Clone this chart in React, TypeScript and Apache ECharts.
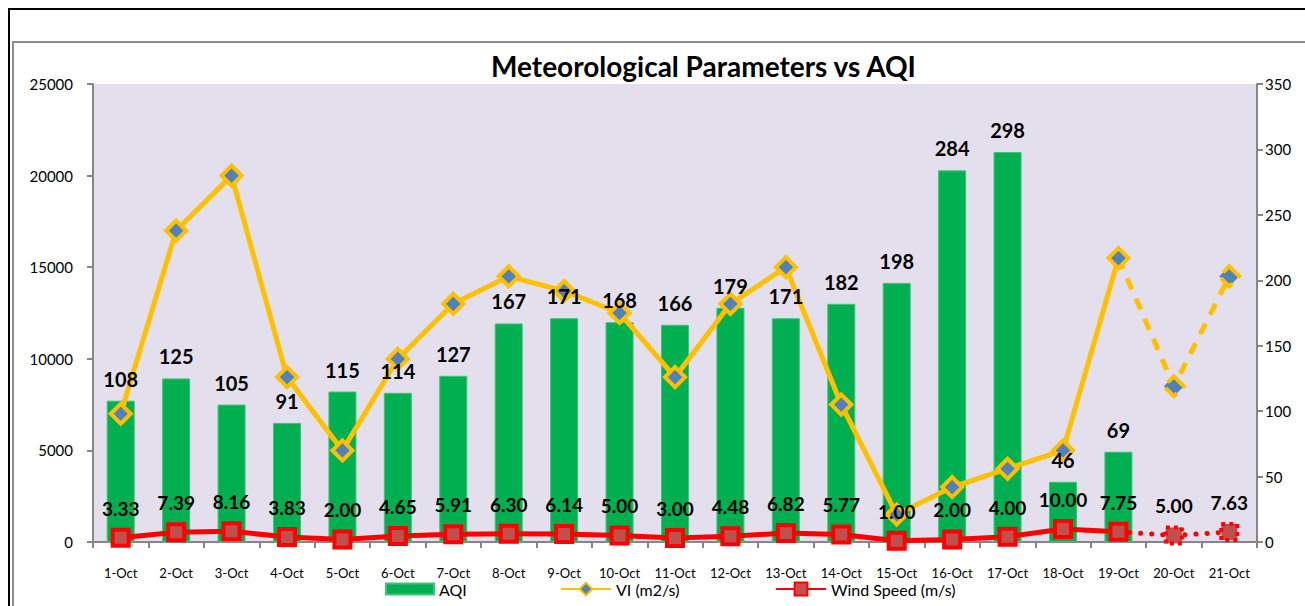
import React, { useEffect, useRef } from "react";
import * as echarts from "echarts";

const categories = ["1-Oct","2-Oct","3-Oct","4-Oct","5-Oct","6-Oct","7-Oct","8-Oct","9-Oct","10-Oct","11-Oct","12-Oct","13-Oct","14-Oct","15-Oct","16-Oct","17-Oct","18-Oct","19-Oct","20-Oct","21-Oct"];
const aqi = [108,125,105,91,115,114,127,167,171,168,166,179,171,182,198,284,298,46,69,null,null];
const vi = [7000,17000,20000,9000,5000,10000,13000,14500,13700,12500,9000,13000,15000,7500,1500,3000,4000,5000,15500,8500,14500];
const wind = [3.33,7.39,8.16,3.83,2.00,4.65,5.91,6.30,6.14,5.00,3.00,4.48,6.82,5.77,1.00,2.00,4.00,10.00,7.75,5.00,7.63];
const lastSolid = 18; // index of 19-Oct, after which values are forecast (dashed)

const FONT = "Lato, 'Open Sans', sans-serif";

export default function App() {
  const ref = useRef<HTMLDivElement>(null);
  useEffect(() => {
    if (!ref.current) return;
    const chart = echarts.init(ref.current, undefined, { renderer: "svg" });

    const viSolid = vi.map((v, i) => (i <= lastSolid ? v : null));
    const viDash = vi.map((v, i) => (i < lastSolid ? null : i === lastSolid ? { value: v, symbol: "none" } : v));
    const windSolid = wind.map((v, i) => (i <= lastSolid ? v : null));
    const windDash = wind.map((v, i) => (i < lastSolid ? null : i === lastSolid ? { value: v, symbol: "none", label: { show: false } } : v));

    const windLabel = {
      show: true,
      position: "top",
      distance: 10,
      fontFamily: FONT,
      fontWeight: "bold",
      fontSize: 19,
      color: "#000",
      formatter: (p: any) => Number(p.value).toFixed(2),
    };

    const legendText = { fontFamily: FONT, fontSize: 16, color: "#000" };

    chart.setOption({
      animation: false,
      textStyle: { fontFamily: FONT },
      title: {
        text: "Meteorological Parameters vs AQI",
        left: 486,
        top: 47,
        textStyle: { fontFamily: FONT, fontWeight: "bold", fontSize: 28, color: "#000" },
      },
      graphic: [
        { type: "rect", shape: { x: 9, y: 9, width: 1400, height: 700 }, style: { fill: "none", stroke: "#000", lineWidth: 2 }, silent: true },
        { type: "rect", shape: { x: 13, y: 42, width: 1400, height: 700 }, style: { fill: "none", stroke: "#8c8c8c", lineWidth: 2 }, silent: true },
      ],
      legend: [
        { left: 380, top: 576, itemWidth: 48, itemHeight: 11, textStyle: legendText, data: [{ name: "AQI", icon: "rect" }] },
        { left: 555, top: 576, itemWidth: 50, itemHeight: 16, textStyle: legendText, data: [{ name: "VI (m2/s)" }] },
        { left: 770, top: 576, itemWidth: 50, itemHeight: 16, textStyle: legendText, data: [{ name: "Wind Speed (m/s)" }] },
      ],
      grid: {
        left: 93,
        right: 48,
        top: 84,
        bottom: 64,
        show: true,
        backgroundColor: "#E4DFEC",
        borderWidth: 0,
      },
      xAxis: {
        type: "category",
        data: categories,
        boundaryGap: true,
        axisLine: { lineStyle: { color: "#868686", width: 2 } },
        axisTick: { show: true, interval: 0, length: 6, lineStyle: { color: "#868686", width: 2 } },
        axisLabel: { interval: 0, fontFamily: FONT, fontSize: 13, color: "#000", margin: 24 },
      },
      yAxis: [
        {
          type: "value",
          min: 0,
          max: 25000,
          interval: 5000,
          position: "left",
          splitLine: { show: false },
          axisLine: { show: true, lineStyle: { color: "#868686", width: 2 } },
          axisTick: { show: true, length: 6, lineStyle: { color: "#868686", width: 2 } },
          axisLabel: { fontFamily: FONT, fontSize: 15, color: "#000", margin: 20, formatter: (v: number) => String(v) },
        },
        {
          type: "value",
          min: 0,
          max: 350,
          interval: 50,
          position: "right",
          splitLine: { show: false },
          axisLine: { show: true, lineStyle: { color: "#868686", width: 2 } },
          axisTick: { show: true, length: 6, lineStyle: { color: "#868686", width: 2 } },
          axisLabel: { fontFamily: FONT, fontSize: 15, color: "#000", margin: 8 },
        },
      ],
      series: [
        {
          name: "AQI",
          type: "bar",
          yAxisIndex: 1,
          data: aqi,
          barWidth: 28,
          itemStyle: { color: "#00B050", borderColor: "#3cc47a", borderWidth: 1 },
          z: 1,
        },
        {
          name: "AQI labels",
          type: "scatter",
          yAxisIndex: 1,
          data: aqi,
          symbolSize: 0,
          silent: true,
          itemStyle: { opacity: 1 },
          label: {
            show: true,
            position: "top",
            distance: 12,
            fontFamily: FONT,
            fontWeight: "bold",
            fontSize: 20,
            color: "#000",
            opacity: 1,
          },
          z: 10,
        },
        {
          name: "VI (m2/s)",
          type: "line",
          yAxisIndex: 0,
          data: viSolid,
          connectNulls: false,
          symbol: "diamond",
          symbolSize: 20,
          lineStyle: { color: "#FFC000", width: 5 },
          itemStyle: { color: "#4F81BD", borderColor: "#FFC000", borderWidth: 4 },
          z: 3,
        },
        {
          name: "VI dash",
          type: "line",
          yAxisIndex: 0,
          data: viDash,
          symbol: "diamond",
          symbolSize: 20,
          lineStyle: { color: "#FFC000", width: 5, type: [12, 10] },
          itemStyle: { color: "#4F81BD", borderColor: "#FFC000", borderWidth: 4, borderType: "dashed" },
          z: 3,
        },
        {
          name: "Wind Speed (m/s)",
          type: "line",
          yAxisIndex: 1,
          data: windSolid,
          symbol: "rect",
          symbolSize: 16,
          lineStyle: { color: "#FF0000", width: 5 },
          itemStyle: { color: "#C0504D", borderColor: "#FF0000", borderWidth: 4 },
          label: windLabel,
          z: 4,
        },
        {
          name: "Wind dash",
          type: "line",
          yAxisIndex: 1,
          data: windDash,
          symbol: "rect",
          symbolSize: 16,
          lineStyle: { color: "#FF0000", width: 5, type: [0.1, 11], cap: "round" },
          itemStyle: { color: "#C0504D", borderColor: "#FF0000", borderWidth: 4, borderType: "dotted" },
          label: windLabel,
          z: 4,
        },
      ],
    });
    return () => chart.dispose();
  }, []);
  return (
    <div
      ref={ref}
      style={{ position: "absolute", left: 0, top: 0, width: 1305, height: 606, background: "#fff" }}
    />
  );
}
